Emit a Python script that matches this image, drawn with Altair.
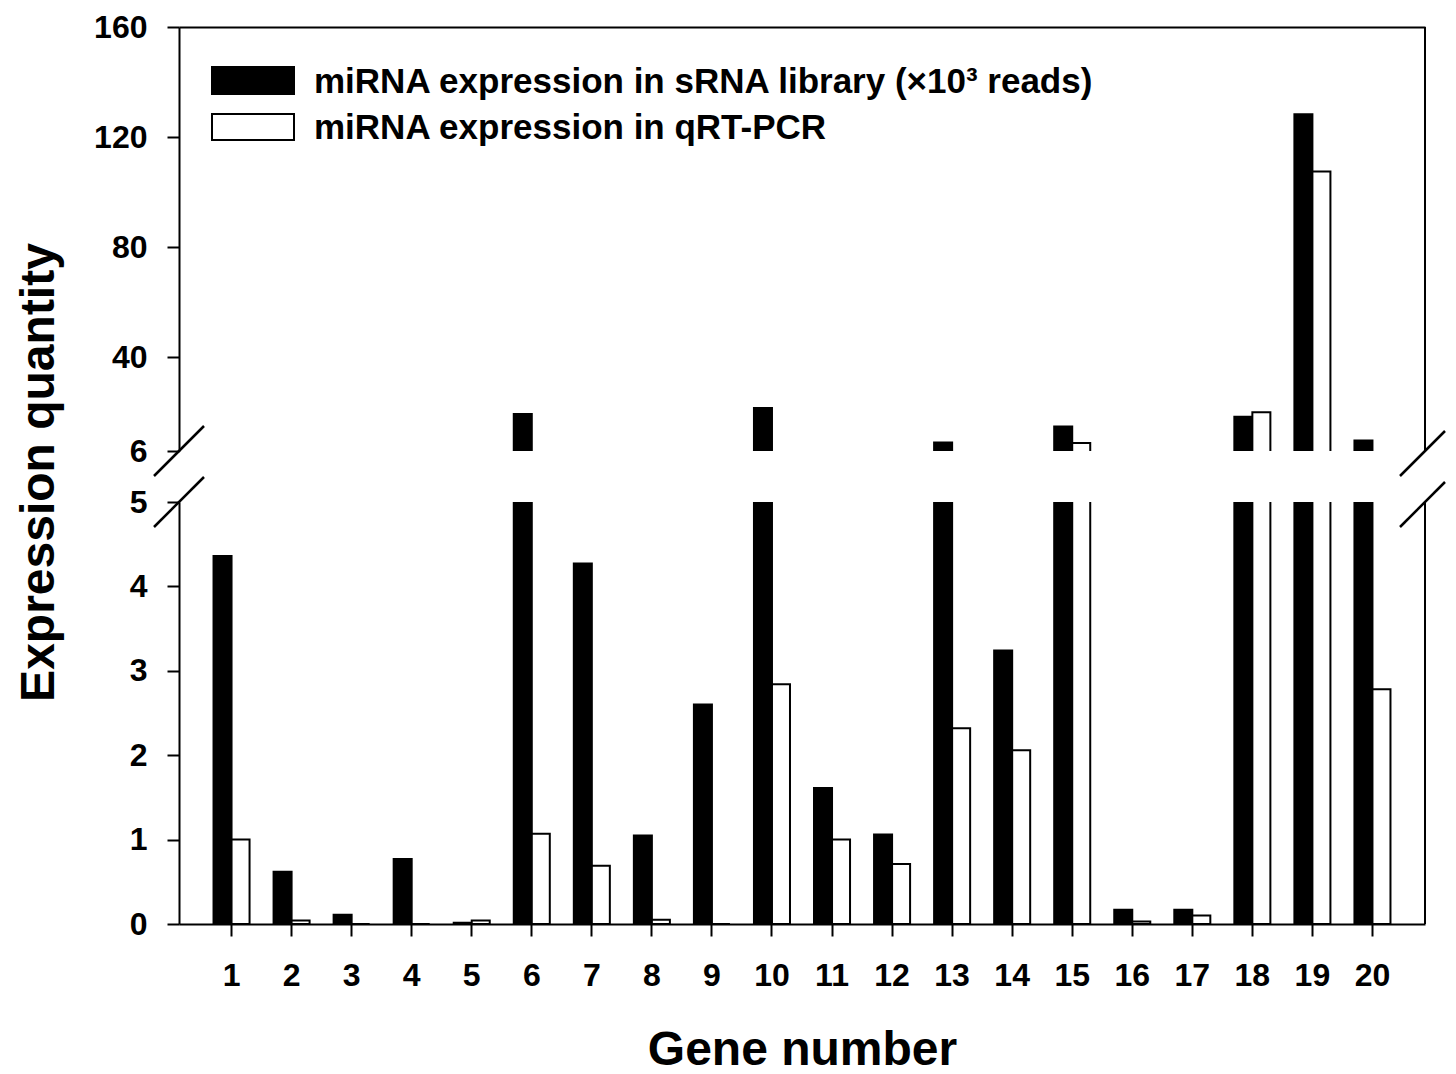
import altair as alt
import pandas as pd

genes = list(range(1, 21))
series = ["miRNA expression in sRNA library (×10³ reads)", "miRNA expression in qRT-PCR"]
srna = [4.36, 0.62, 0.11, 0.77, 0.015, 19.4, 4.27, 1.05, 2.60, 21.6,
        1.61, 1.06, 9.1, 3.24, 14.9, 0.17, 0.17, 18.4, 128.3, 9.8]
qpcr = [1.00, 0.04, 0.0, 0.0, 0.04, 1.07, 0.69, 0.05, 0.0, 2.84,
        1.00, 0.71, 2.32, 2.06, 8.9, 0.03, 0.10, 20.1, 107.5, 2.78]
upper_ticks = [6, 40, 80, 120, 160]
lower_ticks = [0, 1, 2, 3, 4, 5]
upper_domain = [6, 160]
lower_domain = [0, 5]
y_title = "Expression quantity"
x_title = "Gene number"

rows = []
for g, a, b in zip(genes, srna, qpcr):
    rows.append({"gene": g, "series": series[0], "value": a})
    rows.append({"gene": g, "series": series[1], "value": b})
df = pd.DataFrame(rows)
one = pd.DataFrame({"k": [0]})

FONT = "Liberation Sans"
W = 1246
H_UP = 424
H_LOW = 422

xscale = alt.Scale(domain=genes, paddingInner=0.4, paddingOuter=0.575)
offscale = alt.Scale(domain=series, paddingInner=0, paddingOuter=0)
fillscale = alt.Scale(domain=series, range=["black", "white"])


def slash(x0, y0, x1, y1):
    return alt.Chart(one).mark_rule(color="black", strokeWidth=2.5).encode(
        x=alt.value(x0), x2=alt.value(x1), y=alt.value(y0), y2=alt.value(y1)
    )


def bars(domain, yaxis, xaxis):
    return alt.Chart(df).mark_bar(clip=True, stroke="black", strokeWidth=2).encode(
        x=alt.X("gene:O", scale=xscale, axis=xaxis),
        xOffset=alt.XOffset("series:N", scale=offscale),
        y=alt.Y("value:Q", scale=alt.Scale(domain=domain, zero=False, nice=False), axis=yaxis),
        y2=alt.datum(0),
        fill=alt.Fill("series:N", scale=fillscale, legend=None),
    )


upper_bars = bars(
    upper_domain,
    alt.Axis(values=upper_ticks, title=None, format="d"),
    alt.Axis(orient="top", labels=False, ticks=False, title=None),
)

legend_layers = [
    alt.Chart(one).mark_rect(fill="black", stroke="black", strokeWidth=2).encode(
        x=alt.value(33), x2=alt.value(115), y=alt.value(40), y2=alt.value(67)),
    alt.Chart(one).mark_rect(fill="white", stroke="black", strokeWidth=2).encode(
        x=alt.value(33), x2=alt.value(115), y=alt.value(87), y2=alt.value(113)),
    alt.Chart(one).mark_text(align="left", baseline="alphabetic", font=FONT, fontSize=35,
                             fontWeight="bold", color="black").encode(
        x=alt.value(135), y=alt.value(66), text=alt.value(series[0])),
    alt.Chart(one).mark_text(align="left", baseline="alphabetic", font=FONT, fontSize=35,
                             fontWeight="bold", color="black").encode(
        x=alt.value(135), y=alt.value(112), text=alt.value(series[1])),
]

upper_right = alt.Chart(one).mark_rule(color="black", strokeWidth=2).encode(
    x=alt.value(W), y=alt.value(0), y2=alt.value(H_UP))

upper = alt.layer(
    upper_bars, upper_right,
    slash(-25, H_UP + 25, 25, H_UP - 25),
    slash(W - 25, H_UP + 25, W + 20, H_UP - 20),
    *legend_layers,
).properties(width=W, height=H_UP)

lower_bars = bars(
    lower_domain,
    alt.Axis(values=lower_ticks, title=y_title, titleAngle=270, titleAlign="center",
             titleBaseline="alphabetic", titleX=-126, titleY=-30, titleFontSize=48),
    alt.Axis(orient="bottom", labelAngle=0, labelPadding=24, title=x_title,
             titleBaseline="alphabetic", titleY=140, titleFontSize=48),
)
lower_right = alt.Chart(one).mark_rule(color="black", strokeWidth=2).encode(
    x=alt.value(W), y=alt.value(0), y2=alt.value(H_LOW))

lower = alt.layer(
    lower_bars, lower_right,
    slash(-25, 25, 25, -25),
    slash(W - 25, 25, W + 20, -20),
).properties(width=W, height=H_LOW)

chart = alt.vconcat(upper, lower, spacing=51).properties(
    bounds="flush",
    padding={"left": 6, "top": 3, "right": 0, "bottom": 0},
).configure_view(stroke=None).configure_axis(
    domainColor="black", domainWidth=2, tickColor="black", tickWidth=2, tickSize=12,
    labelFont=FONT, labelFontSize=32, labelFontWeight="bold", labelColor="black",
    labelPadding=20, titleFont=FONT, titleFontWeight="bold", titleColor="black", grid=False,
)

chart.save("out.html", embed_options={"renderer": "svg", "actions": False})
